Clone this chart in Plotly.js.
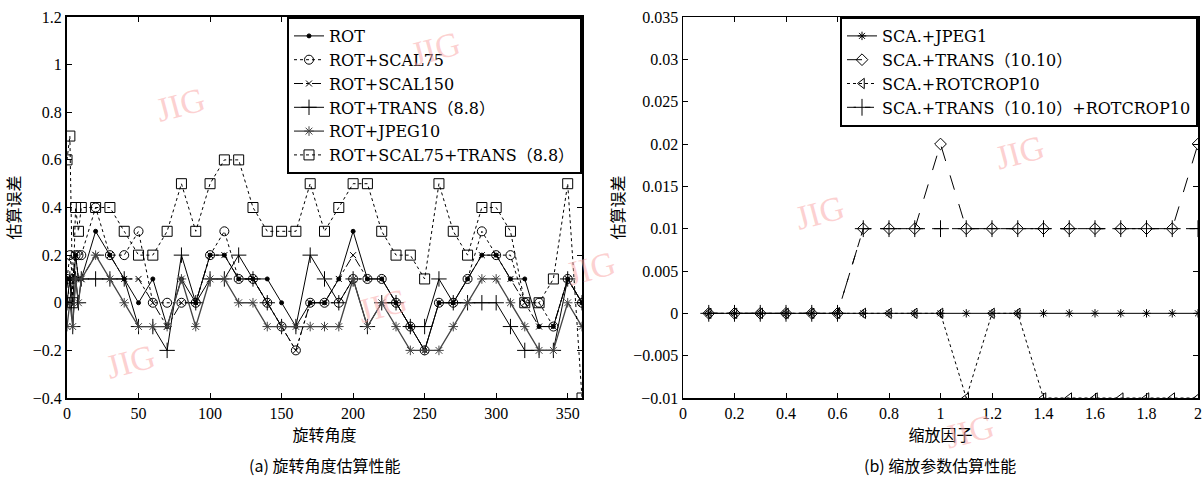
<!DOCTYPE html>
<html>
<head>
<meta charset="utf-8">
<script src="https://cdn.plot.ly/plotly-3.0.1.min.js"></script>
<style>html,body{margin:0;padding:0;background:#fff;}#chart{width:1203px;height:477px;}</style>
</head>
<body>
<div id="chart"></div>
<script>
// ---- (a) rotation angle estimation ----
const rotAngles = [0,2,4,6,8,10,20,30,40,50,60,70,80,90,100,110,120,130,140,150,160,170,180,190,200,210,220,230,240,250,260,270,280,290,300,310,320,330,340,350,360];
const rotOnly    = [0.1,0.1,0,0.2,0.1, 0.1,0.3,0.2,0.1,0,0.1,-0.1,0.1,0,0.2,0.2,0.1,0.1,0.1,0,-0.1,0,0,0.1,0.3,0.1,0.1,0,-0.1,-0.2,0,0,0.1,0.2,0.2,0.1,0.1,-0.1,-0.1,0.1,0];
const rotScal75  = [0.1,0.2,0.1,0.2,0.2, 0.2,0.4,0.2,0.2,0.3,0,0,0,0,0.2,0.3,0.1,0.1,0,-0.1,-0.2,0,0,0,0.1,0.1,0.1,0,-0.1,-0.2,0,0,0.1,0.3,0.2,0.2,0,0,-0.1,0.1,0];
const rotScal150 = [0.1,0,0.1,0.2,0.1, 0.1,0.2,0.2,0.1,0.1,0,-0.1,0,0,0.2,0.2,0.1,0.1,0,-0.1,-0.2,0,0,0.1,0.2,0.1,0.1,0,-0.1,-0.2,0,0,0.1,0.2,0.2,0.1,0,-0.1,-0.1,0.1,0];
const rotTrans   = [0,0.1,-0.1,0.1,0, 0.1,0.1,0.1,0.1,-0.1,-0.1,-0.2,0.2,0,0.1,0.1,0.2,0.1,0,-0.1,-0.1,0.2,0.1,0,0.1,-0.1,0,0,-0.1,-0.1,0.1,0,0,0,0,-0.1,-0.2,-0.2,-0.2,0.1,0];
const rotJpeg10  = [-0.1,0,-0.1,0.1,0, 0.1,0.2,0.1,0,-0.1,-0.1,-0.1,0.1,-0.1,0.1,0.1,0,0,-0.1,-0.1,-0.1,-0.1,-0.1,-0.1,0.1,-0.1,0,-0.1,-0.2,-0.2,-0.2,-0.1,0,0.1,0.1,0,-0.1,-0.2,-0.2,0,-0.1];
const rotScalTr  = [0.6,0.7,0,0.4,0.3, 0.4,0.4,0.4,0.3,0.2,0.2,0.3,0.5,0.3,0.5,0.6,0.6,0.4,0.3,0.3,0.3,0.5,0.3,0.4,0.5,0.5,0.3,0.2,0.2,0.1,0.5,0.3,0.2,0.4,0.4,0.3,0,0,0.1,0.5,-0.4];

// ---- (b) scale factor estimation ----
const scaleFactors = [0.1,0.2,0.3,0.4,0.5,0.6,0.7,0.8,0.9,1.0,1.1,1.2,1.3,1.4,1.5,1.6,1.7,1.8,1.9,2.0];
const scaJpeg1   = [0,0,0,0,0,0,0,0,0,0,0,0,0,0,0,0,0,0,0,0];
const scaTrans   = [0,0,0,0,0,0,0.01,0.01,0.01,0.02,0.01,0.01,0.01,0.01,0.01,0.01,0.01,0.01,0.01,0.02];
const scaRotCrop = [0,0,0,0,0,0,0,0,0,0,-0.01,0,0,-0.01,-0.01,-0.01,-0.01,-0.01,-0.01,-0.01];
const scaTransRc = [0,0,0,0,0,0,0.01,0.01,0.01,0.01,0.01,0.01,0.01,0.01,0.01,0.01,0.01,0.01,0.01,0.01];

const leftNames  = ['ROT','ROT+SCAL75','ROT+SCAL150','ROT+TRANS（8.8）','ROT+JPEG10','ROT+SCAL75+TRANS（8.8）'];
const rightNames = ['SCA.+JPEG1','SCA.+TRANS（10.10）','SCA.+ROTCROP10','SCA.+TRANS（10.10）+ROTCROP10'];

const serif = 'Liberation Serif, Times New Roman, Noto Sans CJK SC, serif';
const legSerif = 'DejaVu Serif, Noto Sans CJK SC, serif';
const cjk = 'Noto Sans CJK SC, sans-serif';

function tr(x, y, name, dash, color, width, symbol, msize, xa, ya, legend) {
  return {x: x, y: y, name: name, type: 'scatter', mode: 'lines+markers',
    xaxis: xa, yaxis: ya, legend: legend,
    line: {dash: dash, color: color, width: width},
    marker: {symbol: symbol, size: msize, color: color, line: {color: color, width: 1}}};
}

const data = [
  tr(rotAngles, rotOnly, leftNames[0], 'solid', '#000', 1, 'circle', 4, 'x', 'y', 'legend'),
  tr(rotAngles, rotScal75, leftNames[1], 'dot', '#000', 1, 'circle-open', 9, 'x', 'y', 'legend'),
  tr(rotAngles, rotScal150, leftNames[2], 'dashdot', '#000', 1, 'x-thin-open', 6, 'x', 'y', 'legend'),
  tr(rotAngles, rotTrans, leftNames[3], 'solid', '#000', 1, 'cross-thin-open', 11, 'x', 'y', 'legend'),
  tr(rotAngles, rotJpeg10, leftNames[4], 'solid', '#444', 1.3, 'asterisk-open', 8, 'x', 'y', 'legend'),
  tr(rotAngles, rotScalTr, leftNames[5], 'dot', '#000', 1, 'square-open', 10, 'x', 'y', 'legend'),
  tr(scaleFactors, scaJpeg1, rightNames[0], 'solid', '#000', 1, 'asterisk-open', 7, 'x2', 'y2', 'legend2'),
  tr(scaleFactors, scaTrans, rightNames[1], 'longdash', '#000', 1, 'diamond-open', 9, 'x2', 'y2', 'legend2'),
  tr(scaleFactors, scaRotCrop, rightNames[2], 'dot', '#000', 1, 'triangle-left-open', 9, 'x2', 'y2', 'legend2'),
  tr(scaleFactors, scaTransRc, rightNames[3], 'dash', '#000', 1, 'cross-thin-open', 12, 'x2', 'y2', 'legend2')
];

const W = 1203, H = 477, L = 67, R = 5, T = 17, B = 79;
const PW = W - L - R, PH = H - T - B;
function px(x) { return (x - L) / PW; }
function py(y) { return (H - B - y) / PH; }

const axCommon = {showgrid: false, zeroline: false, showline: true, mirror: 'ticks', ticks: 'inside',
  ticklen: 5, tickcolor: '#000', linecolor: '#000', tickfont: {family: serif, size: 16, color: '#000'}};

const wm = [[150,78],[405,22],[352,332],[590,268],[100,388],[820,212],[1050,152],[1000,458]];
const annotations = wm.map(p => ({xref: 'paper', yref: 'paper', x: px(p[0]), y: py(p[1]), text: 'JIG',
  showarrow: false, textangle: -15, font: {family: serif, size: 34, color: 'rgba(250,170,170,0.55)'}}));
annotations.push({xref: 'paper', yref: 'paper', x: px(324), y: py(465), xanchor: 'center', yanchor: 'middle',
  text: '(a) 旋转角度估算性能', showarrow: false, font: {family: cjk, size: 16, color: '#000'}});
annotations.push({xref: 'paper', yref: 'paper', x: px(940), y: py(465), xanchor: 'center', yanchor: 'middle',
  text: '(b) 缩放参数估算性能', showarrow: false, font: {family: cjk, size: 16, color: '#000'}});

const layout = {
  width: W, height: H, margin: {l: L, r: R, t: T, b: B},
  paper_bgcolor: '#fff', plot_bgcolor: '#fff', showlegend: true,
  xaxis: Object.assign({}, axCommon, {domain: [0, px(582)], range: [0, 360], dtick: 50, linewidth: 2,
    title: {text: '旋转角度', font: {family: cjk, size: 16, color: '#000'}, standoff: 4}}),
  yaxis: Object.assign({}, axCommon, {domain: [0, 1], range: [-0.4, 1.2], dtick: 0.2, linewidth: 2,
    title: {text: '估算误差', font: {family: cjk, size: 16, color: '#000'}, standoff: 8}}),
  xaxis2: Object.assign({}, axCommon, {domain: [px(683), 1], range: [0, 2], dtick: 0.2, anchor: 'y2', linewidth: 1.5,
    title: {text: '缩放因子', font: {family: cjk, size: 16, color: '#000'}, standoff: 4}}),
  yaxis2: Object.assign({}, axCommon, {domain: [0, 1], range: [-0.01, 0.035], dtick: 0.005, anchor: 'x2', linewidth: 1.5,
    title: {text: '估算误差', font: {family: cjk, size: 16, color: '#000'}, standoff: 4}}),
  legend: {x: px(582), xanchor: 'right', y: 1, yanchor: 'top', bgcolor: '#fff', bordercolor: '#000', borderwidth: 2,
    font: {family: legSerif, size: 16, color: '#000'}, tracegroupgap: 0},
  legend2: {x: 1, xanchor: 'right', y: 1, yanchor: 'top', bgcolor: '#fff', bordercolor: '#000', borderwidth: 2,
    font: {family: legSerif, size: 16, color: '#000'}, tracegroupgap: 0},
  annotations: annotations
};

Plotly.newPlot('chart', data, layout, {displayModeBar: false, staticPlot: true});
</script>
</body>
</html>
